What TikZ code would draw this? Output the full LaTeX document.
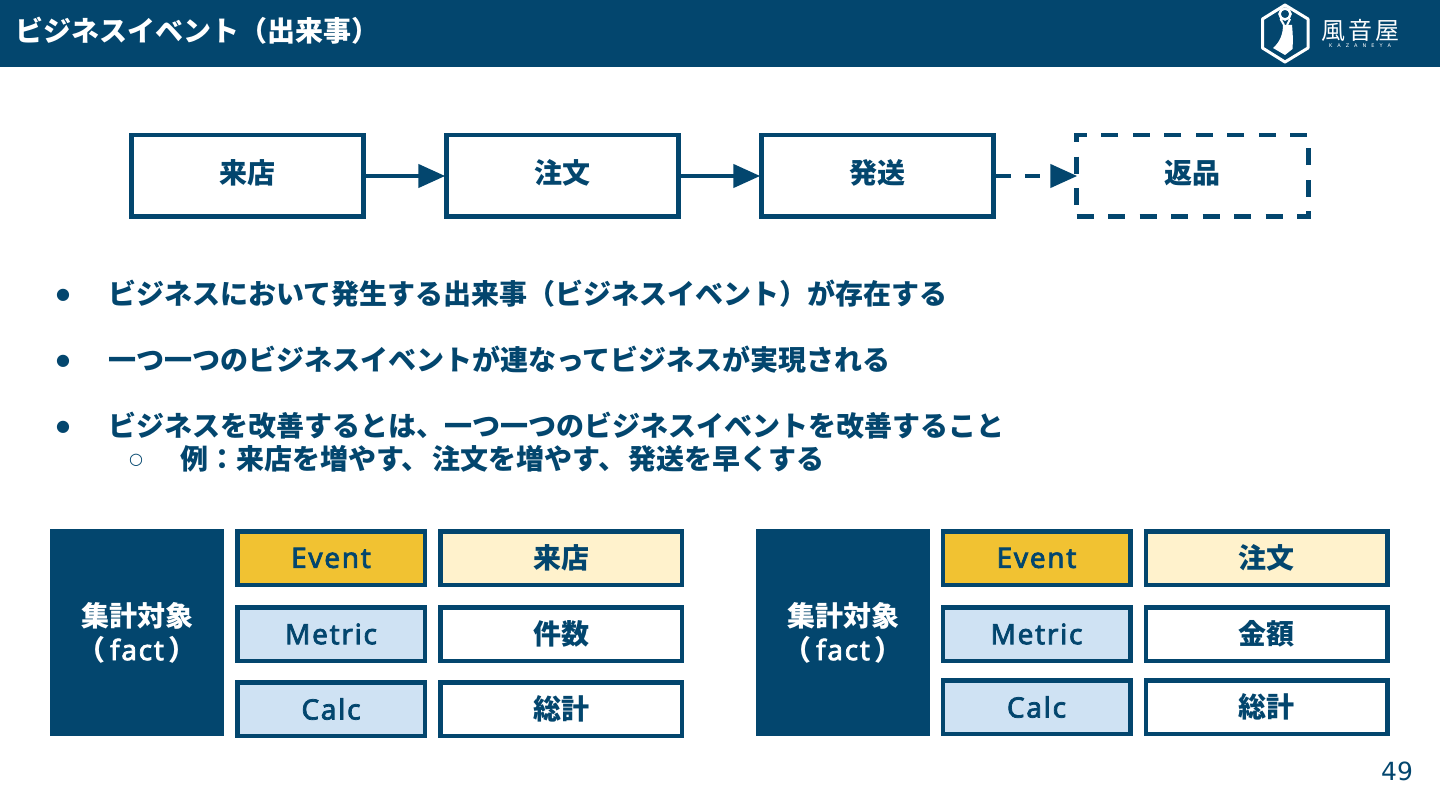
\documentclass[tikz,border=0pt]{standalone}
\usepackage{fontspec}
\setmainfont{Noto Sans CJK JP}
\newfontfamily\latinfont[LetterSpace=6]{Noto Sans}
\newfontfamily\pagefont{DejaVu Sans}
\newcommand{\heavy}[1]{\special{pdf:code 2 Tr 0.75 w}#1\special{pdf:code 0 Tr 1 w}}
\usetikzlibrary{arrows.meta}
\definecolor{navy}{HTML}{03466E}
\definecolor{eventgold}{HTML}{F1C232}
\definecolor{eventpale}{HTML}{FFF2CC}
\definecolor{metricblue}{HTML}{CFE2F3}

\begin{document}
\begin{tikzpicture}[x=1pt,y=-1pt,>={Triangle[length=27pt,width=23pt]},
  flowbox/.style={draw=navy,line width=4.5pt,fill=white,minimum width=232pt,minimum height=81.5pt,
    text=navy,font=\fontsize{28}{28}\selectfont\bfseries,inner sep=0pt,text height=20pt,text depth=4pt},
  flowline/.style={->,draw=navy,line width=4.5pt,shorten >=-1pt},
  bulletline/.style={anchor=west,text=navy,font=\fontsize{28}{28}\selectfont\bfseries,inner sep=0pt},
  bulletmark/.style={text=navy,font=\pagefont\fontsize{16}{16}\selectfont,inner sep=0pt},
  factbox/.style={fill=navy,text=white,minimum width=174pt,minimum height=207pt,align=center,inner sep=0pt,
    font=\fontsize{28}{34}\selectfont\bfseries},
  keybox/.style={draw=navy,line width=4.5pt,minimum width=187.5pt,minimum height=53.5pt,text=navy,inner sep=0pt,
    font=\latinfont\fontsize{28}{28}\selectfont},
  valbox/.style={draw=navy,line width=4.5pt,minimum width=241.5pt,minimum height=53.5pt,text=navy,inner sep=0pt,
    font=\fontsize{28}{28}\selectfont\bfseries}]
\useasboundingbox (0,0) rectangle (1440,810);
% header
\fill[navy] (0,0) rectangle (1440,67);
\node[anchor=west,text=white,inner sep=0pt,font=\fontsize{28}{28}\selectfont\bfseries] (title) at (15,31) {ビジネスイベント（出来事）};
% logo
\draw[white,line width=3pt,line join=round] (1285,5) -- (1308,19) -- (1308,48) -- (1285,62) -- (1262.5,48) -- (1262.5,19) -- cycle;
\draw[white,line width=2.5pt] (1285,14) circle (5.5pt);
\draw[white,line width=2pt] (1280.5,19) -- (1284,25) (1290,19) -- (1287,25);
\fill[white] (1283,25) -- (1292,25) .. controls (1293,35) and (1293,42) .. (1292.5,49) -- (1285,55) -- (1273,48) .. controls (1280,42) and (1283,34) .. (1283,25) -- cycle;
\node[text=white,inner sep=0pt,font=\fontsize{24}{24}\selectfont] (logotext) at (1360,30) {風\kern3pt 音\kern3pt 屋};
\node[text=white,inner sep=0pt,font=\pagefont\fontsize{5}{5}\selectfont] (logosub) at (1360,46) {K\kern5pt A\kern5pt Z\kern5pt A\kern5pt N\kern5pt E\kern5pt Y\kern5pt A};
% flow
\node[flowbox] (visit) at (247.5,176) {来店};
\node[flowbox] (order) at (562.5,176) {注文};
\node[flowbox] (ship) at (877.5,176) {発送};
\node[flowbox,dash pattern=on 17pt off 14.5pt] (return) at (1192.5,176) {返品};
\draw[flowline] (visit) -- (order);
\draw[flowline] (order) -- (ship);
\draw[flowline,dash pattern=on 15pt off 14pt,shorten >=-3pt] (ship) -- (return);
% bullets
\node[bulletmark] (b1) at (63,295) {●};
\node[bulletline] (t1) at (108,294) {ビジネスにおいて発生する出来事（ビジネスイベント）が存在する};
\node[bulletmark] (b2) at (63,361) {●};
\node[bulletline] (t2) at (108,360) {一つ一つのビジネスイベントが連なってビジネスが実現される};
\node[bulletmark] (b3) at (63,427) {●};
\node[bulletline] (t3) at (108,426) {ビジネスを改善するとは、一つ一つのビジネスイベントを改善すること};
\node[bulletmark] (b4) at (136,460) {○};
\node[bulletline] (t4) at (180,459) {例：来店を増やす、\kern2.5pt 注文を増やす、\kern2.5pt 発送を早くする};
% left table
\node[factbox] (factl) at (137,632.5) {集計対象\\（\kern5pt{\latinfont\heavy{fact}}\kern5pt）};
\node[keybox,fill=eventgold] (eventl) at (331,558) {\heavy{Event}};
\node[valbox,fill=eventpale] (valevl) at (561,558) {来店};
\node[keybox,fill=metricblue] (metricl) at (331,634) {\heavy{Metric}};
\node[valbox,fill=white] (valmel) at (561,634) {件数};
\node[keybox,fill=metricblue] (calcl) at (331,709) {\heavy{Calc}};
\node[valbox,fill=white] (valcal) at (561,709) {総計};
% right table
\node[factbox] (factr) at (843,632.5) {集計対象\\（\kern5pt{\latinfont\heavy{fact}}\kern5pt）};
\node[keybox,fill=eventgold] (eventr) at (1036.5,558) {\heavy{Event}};
\node[valbox,fill=eventpale] (valevr) at (1266.5,558) {注文};
\node[keybox,fill=metricblue] (metricr) at (1036.5,634) {\heavy{Metric}};
\node[valbox,fill=white] (valmer) at (1266.5,634) {金額};
\node[keybox,fill=metricblue] (calcr) at (1036.5,707) {\heavy{Calc}};
\node[valbox,fill=white] (valcar) at (1266.5,707) {総計};
% page number
\node[text=navy,inner sep=0pt,font=\pagefont\fontsize{25}{25}\selectfont] (page) at (1397,771) {49};
\end{tikzpicture}
\end{document}
